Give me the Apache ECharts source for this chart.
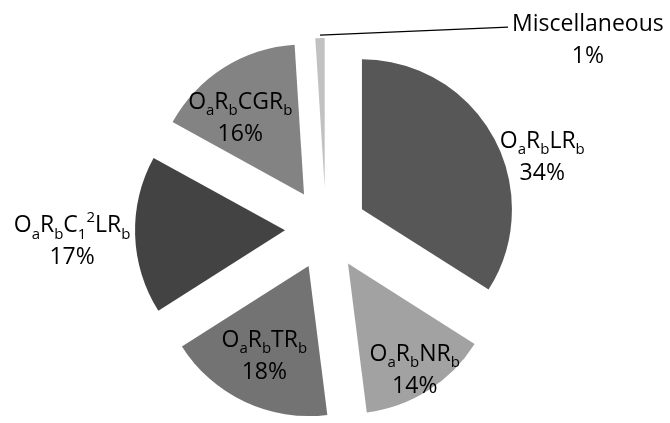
<!DOCTYPE html>
<html>
<head>
<meta charset="utf-8">
<script src="https://cdn.jsdelivr.net/npm/echarts@6/dist/echarts.min.js"></script>
<style>
  html, body { margin: 0; padding: 0; background: #fff; }
  #chart { width: 670px; height: 423px; }
</style>
</head>
<body>
<div id="chart"></div>
<script>
// slices, clockwise from 12 o'clock
const categories = ["OaRbLRb", "OaRbNRb", "OaRbTRb", "OaRbC12LRb", "OaRbCGRb", "Miscellaneous"];
const labelText = [
    "{m|O}{s|a}{m|R}{s|b}{m|LR}{s|b}",
    "{m|O}{s|a}{m|R}{s|b}{m|NR}{s|b}",
    "{m|O}{s|a}{m|R}{s|b}{m|TR}{s|b}",
    "{m|O}{s|a}{m|R}{s|b}{m|C}{s|1}{p|2}{m|LR}{s|b}",
    "{m|O}{s|a}{m|R}{s|b}{m|CGR}{s|b}",
    "{m|Miscellaneous}",
];
const values = [34, 14, 18, 17, 16, 1];
const colors = ["#575757", "#a2a2a2", "#737373", "#434343", "#838383", "#c1c1c1"];

const center = [326, 229];
const radius = 150;
const explode = 41;
// label nudges from the default spot
const nudges = [[112, -14], [25, 41], [-11, 20], [-135, 9], [-22, -10], [283, 7]];

const chart = echarts.init(document.getElementById("chart"));

const total = values.reduce((a, b) => a + b, 0);
const lastMid = (total - values[values.length - 1] / 2) / total * 2 * Math.PI;

const options = {
    animation: false,
    series: [
        {
            type: "pie",
            center: center,
            radius: radius,
            startAngle: 90,
            clockwise: true,
            selectedMode: "multiple",
            selectedOffset: explode,
            avoidLabelOverlap: false,
            emphasis: { disabled: true },
            itemStyle: { borderWidth: 0 },
            label: {
                position: "inside",
                color: "#000",
                fontFamily: "Open Sans",
                align: "center",
                formatter: (p) => labelText[p.dataIndex] + "\n{m|" + p.value + "%}",
                rich: {
                    m: { fontSize: 23, lineHeight: 32, fontFamily: "Open Sans", color: "#000" },
                    s: { fontSize: 15, lineHeight: 19, verticalAlign: "bottom", fontFamily: "Open Sans", color: "#000" },
                    p: { fontSize: 15, lineHeight: 21, verticalAlign: "top", fontFamily: "Open Sans", color: "#000" },
                },
            },
            labelLine: { show: false },
            labelLayout: (p) => {
                const out = { dx: nudges[p.dataIndex][0], dy: nudges[p.dataIndex][1] };
                if (p.dataIndex === values.length - 1) {
                    // leader line, in the slice's own (unexploded) frame
                    const x0 = center[0] + radius * Math.sin(lastMid);
                    const y0 = center[1] - radius * Math.cos(lastMid);
                    out.align = "center";
                    out.labelLinePoints = [[x0, y0 - 3], [x0 + 94, y0 - 7], [x0 + 188, y0 - 11]];
                }
                return out;
            },
            data: categories.map((name, i) => ({
                name: name,
                value: values[i],
                selected: true,
                itemStyle: { color: colors[i] },
                label: i === values.length - 1 ? { position: "outside" } : {},
                labelLine: i === values.length - 1
                    ? { show: true, length: 5, length2: 10, lineStyle: { color: "#000", width: 1.4 } }
                    : { show: false },
            })),
        },
    ],
};

chart.setOption(options);
window.addEventListener("resize", () => {
    chart.resize();
});
</script>
</body>
</html>
